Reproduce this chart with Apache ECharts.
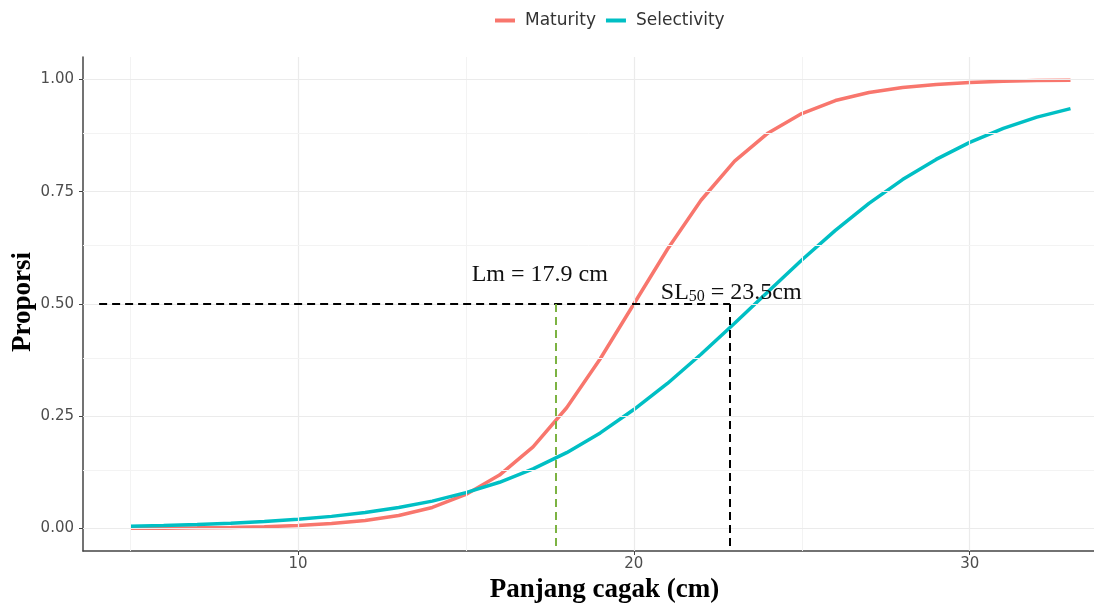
<!DOCTYPE html>
<html>
<head>
<meta charset="utf-8">
<script src="https://cdn.jsdelivr.net/npm/echarts@6/dist/echarts.min.js"></script>
<style>html,body{margin:0;padding:0;background:#fff;}#c{width:1094px;height:606px;}</style>
</head>
<body>
<div id="c"></div>
<script>
// Data
const lengths = [5,6,7,8,9,10,11,12,13,14,15,16,17,18,19,20,21,22,23,24,25,26,27,28,29,30,31,32,33];
const maturity = [0.0006,0.0009,0.0015,0.0025,0.0041,0.0067,0.011,0.018,0.029,0.047,0.076,0.119,0.182,0.269,0.378,0.50,0.622,0.731,0.818,0.881,0.924,0.953,0.971,0.982,0.989,0.993,0.996,0.9975,0.9985];
const selectivity = [0.0051,0.0067,0.0089,0.0118,0.0155,0.0206,0.0271,0.0359,0.047,0.061,0.080,0.103,0.133,0.169,0.213,0.265,0.323,0.388,0.457,0.528,0.598,0.664,0.724,0.777,0.822,0.860,0.891,0.916,0.935];
const xTicks = [10,20,30];
const xMinor = [5,15,25];
const yTicks = [0,0.25,0.5,0.75,1];
const yMinor = [0.125,0.375,0.625,0.875];
const hLineStart = 4.08;
const lmLine = 17.68;
const slLine = 22.86;
const refProp = 0.5;
const lmLabel = 'Lm = 17.9 cm';
const yTitle = 'Proporsi';
const slLabelPos = [22.9, 0.525];
const lmLabelPos = [17.2, 0.566];

const xMin = 3.6, xMax = 33.7, yMin = -0.05, yMax = 1.05;

const chart = echarts.init(document.getElementById('c'));
const gridMarks = [];
xTicks.forEach(v => gridMarks.push({xAxis: v, lineStyle: {color: '#ebebeb', width: 1.2, type: 'solid'}}));
xMinor.forEach(v => gridMarks.push({xAxis: v, lineStyle: {color: '#f3f3f3', width: 1, type: 'solid'}}));
yTicks.forEach(v => gridMarks.push({yAxis: v, lineStyle: {color: '#ebebeb', width: 1.2, type: 'solid'}}));
yMinor.forEach(v => gridMarks.push({yAxis: v, lineStyle: {color: '#f3f3f3', width: 1, type: 'solid'}}));

const serif = '"Liberation Serif", "Times New Roman", serif';
const sans = '"DejaVu Sans", sans-serif';

chart.setOption({
  animation: false,
  backgroundColor: '#fff',
  grid: {left: 83, right: 0, top: 57, bottom: 55, outerBoundsMode: 'none', containLabel: false},
  legend: {
    top: 7, left: 490,
    data: ['Maturity', 'Selectivity'],
    icon: 'rect', itemWidth: 20, itemHeight: 4, itemGap: 10,
    textStyle: {fontFamily: sans, fontSize: 17, color: '#333', padding: [0, 0, 0, 5]}
  },
  graphic: [{
    type: 'text', x: 23, y: 302, rotation: Math.PI / 2, silent: true,
    style: {text: yTitle, align: 'center', verticalAlign: 'middle',
      font: 'bold 27px "Liberation Serif", "Times New Roman", serif', fill: '#000'}
  }],
  xAxis: {
    type: 'value', min: xMin, max: xMax,
    name: 'Panjang cagak (cm)', nameLocation: 'middle', nameGap: 26,
    nameTextStyle: {fontFamily: serif, fontWeight: 'bold', fontSize: 27, color: '#000', padding: [0, 0, 0, 32]},
    axisLine: {show: true, onZero: false, lineStyle: {color: '#444', width: 1.5}},
    axisTick: {show: true, length: 4, lineStyle: {color: '#444'}, customValues: xTicks},
    axisLabel: {customValues: xTicks, fontFamily: sans, fontSize: 15, color: '#4d4d4d', margin: 6},
    splitLine: {show: false}
  },
  yAxis: {
    type: 'value', min: yMin, max: yMax,
    axisLine: {show: true, onZero: false, lineStyle: {color: '#444', width: 1.5}},
    axisTick: {show: true, length: 4, lineStyle: {color: '#444'}, customValues: yTicks},
    axisLabel: {customValues: yTicks, fontFamily: sans, fontSize: 15, color: '#4d4d4d', margin: 9,
      formatter: v => v.toFixed(2)},
    splitLine: {show: false}
  },
  series: [
    {
      name: 'grid', type: 'line', data: [], silent: true, z: 0,
      markLine: {silent: true, symbol: 'none', label: {show: false}, data: gridMarks}
    },
    {
      name: 'Maturity', type: 'line', color: '#F8766D', showSymbol: false, smooth: false,
      lineStyle: {width: 3.5}, z: 3,
      data: lengths.map((x, i) => [x, maturity[i]])
    },
    {
      name: 'Selectivity', type: 'line', color: '#00BFC4', showSymbol: false, smooth: false,
      lineStyle: {width: 3.5}, z: 3,
      data: lengths.map((x, i) => [x, selectivity[i]])
    },
    {
      name: 'annot', type: 'line', data: [], silent: true, z: 4,
      markLine: {
        silent: true, symbol: 'none', label: {show: false},
        data: [
          [{coord: [hLineStart, refProp], lineStyle: {color: '#000', width: 2, type: [8, 5]}}, {coord: [slLine, refProp]}],
          [{coord: [slLine, refProp], lineStyle: {color: '#000', width: 2, type: [8, 5]}}, {coord: [slLine, yMin]}],
          [{coord: [lmLine, refProp], lineStyle: {color: '#7cb342', width: 2, type: [8, 5]}}, {coord: [lmLine, yMin]}]
        ]
      },
      markPoint: {
        silent: true, symbol: 'circle', symbolSize: 0,
        data: [
          {coord: lmLabelPos, label: {show: true, formatter: lmLabel, fontFamily: serif, fontSize: 24, color: '#111'}},
          {coord: slLabelPos, label: {show: true, formatter: '{a|SL}{s|50}{a| = 23.5cm}',
            rich: {a: {fontFamily: serif, fontSize: 24, color: '#111'},
                   s: {fontFamily: serif, fontSize: 16, color: '#111', verticalAlign: 'bottom', padding: [9, 0, 0, 0]}}}}
        ]
      }
    }
  ]
});
</script>
</body>
</html>
